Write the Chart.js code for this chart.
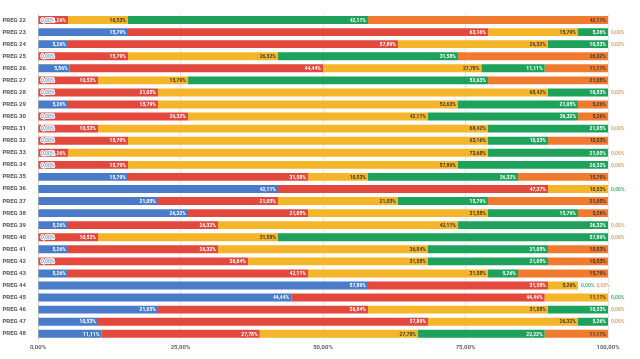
<!DOCTYPE html>
<html>
<head>
<meta charset="utf-8">
<script src="https://cdn.jsdelivr.net/npm/chart.js@4.4.0/dist/chart.umd.min.js"></script>
<style>
    html, body { margin: 0; padding: 0; background: #ffffff; }
    #wrap { width: 640px; height: 359px; position: relative; }
</style>
</head>
<body>
<div id="wrap"><canvas id="preguntas"></canvas></div>
<script>
// =========================
// DATOS
// =========================

const preguntas = [
    "PREG 22", "PREG 23", "PREG 24", "PREG 25", "PREG 26", "PREG 27", "PREG 28",
    "PREG 29", "PREG 30", "PREG 31", "PREG 32", "PREG 33", "PREG 34", "PREG 35",
    "PREG 36", "PREG 37", "PREG 38", "PREG 39", "PREG 40", "PREG 41", "PREG 42",
    "PREG 43", "PREG 44", "PREG 45", "PREG 46", "PREG 47", "PREG 48"
];

const azul = [0, 15.79, 5.26, 0, 5.56, 0, 0, 5.26, 0, 0, 0, 0, 0, 15.79, 42.11, 21.05, 26.32, 5.26, 0, 5.26, 0, 5.26, 57.89, 44.44, 21.05, 10.53, 11.11];
const rojo = [5.26, 63.16, 57.89, 15.79, 44.44, 10.53, 21.05, 15.79, 26.32, 10.53, 15.79, 5.26, 15.79, 31.58, 47.37, 21.05, 21.05, 26.32, 10.53, 26.32, 36.84, 42.11, 31.58, 44.44, 36.84, 57.89, 27.78];
const amarillo = [10.53, 15.79, 26.32, 26.32, 27.78, 15.79, 68.42, 52.63, 42.11, 68.42, 63.16, 73.68, 57.89, 10.53, 10.53, 21.05, 31.58, 42.11, 31.58, 36.84, 31.58, 31.58, 5.26, 11.11, 31.58, 26.32, 27.78];
const verde = [42.11, 5.26, 10.53, 31.58, 11.11, 52.63, 10.53, 21.05, 26.32, 21.05, 10.53, 21.05, 26.32, 26.32, 0, 15.79, 15.79, 26.32, 57.89, 21.05, 21.05, 5.26, 0, 0, 10.53, 5.26, 22.22];
const naranja = [42.11, 0, 0, 26.32, 11.11, 21.05, 0, 5.26, 5.26, 0, 10.53, 0, 0, 15.79, null, 21.05, 5.26, 0, 0, 10.53, 10.53, 15.79, 0, null, 0, 0, 11.11];

const ticksX = [0, 25, 50, 75, 100];

const colores = ["#4A7BC9", "#E2483C", "#F5B528", "#1DA15B", "#F07B2E"];
const coloresTexto = ["#FFFFFF", "#FFFFFF", "#3A3A3A", "#FFFFFF", "#3A3A3A"];
const coloresCero = ["rgba(74,123,201,.75)", "rgba(226,72,60,.75)", "rgba(214,150,60,.8)", "rgba(29,161,91,.8)", "rgba(214,150,90,.85)"];

const formato = v => v.toFixed(2).replace(".", ",") + "%";

// =========================
// ETIQUETAS DE LOS SEGMENTOS
// =========================

const etiquetas = {
    id: "etiquetas",
    afterDatasetsDraw(chart) {
        const ctx = chart.ctx;
        ctx.save();
        ctx.font = "bold 5px Roboto";
        ctx.textBaseline = "middle";
        const ocupado = {};
        chart.data.datasets.forEach((ds, i) => {
            const meta = chart.getDatasetMeta(i);
            meta.data.forEach((bar, j) => {
                const v = ds.data[j];
                if (v === null || v === undefined) return;
                const texto = formato(v);
                if (v > 0) {
                    ctx.textAlign = "right";
                    ctx.fillStyle = coloresTexto[i];
                    ctx.fillText(texto, bar.x - 2, bar.y + 0.5);
                } else {
                    let x = bar.x + 3;
                    if (ocupado[j] !== undefined && ocupado[j] > x) x = ocupado[j];
                    ctx.textAlign = "left";
                    ctx.lineWidth = 2;
                    ctx.strokeStyle = "#FFFFFF";
                    ctx.strokeText(texto, x, bar.y + 0.5);
                    ctx.fillStyle = coloresCero[i];
                    ctx.fillText(texto, x, bar.y + 0.5);
                    ocupado[j] = x + ctx.measureText(texto).width + 2;
                }
            });
        });
        ctx.restore();
    }
};

// =========================
// GRÁFICO
// =========================

const series = [azul, rojo, amarillo, verde, naranja];

new Chart(document.getElementById("preguntas"), {

    type: "bar",

    data: {
        labels: preguntas,
        datasets: series.map((d, i) => ({
            data: d,
            backgroundColor: colores[i],
            borderWidth: 0,
            barPercentage: 0.8,
            categoryPercentage: 0.82
        }))
    },

    options: {

        indexAxis: "y",
        responsive: true,
        maintainAspectRatio: false,
        animation: false,

        layout: {
            padding: { left: 0, right: 32, top: 14, bottom: 4 }
        },

        plugins: {
            legend: { display: false },
            tooltip: { enabled: false }
        },

        scales: {

            x: {
                stacked: true,
                min: 0,
                max: 100,
                afterBuildTicks: scale => {
                    scale.ticks = ticksX.map(v => ({ value: v }));
                },
                ticks: {
                    callback: value => formato(value),
                    color: "#666666",
                    padding: 4,
                    font: { family: "Roboto", size: 6, weight: "bold" }
                },
                grid: {
                    color: "#E6E6E6",
                    drawTicks: false
                },
                border: { display: false }
            },

            y: {
                stacked: true,
                afterFit: scale => { scale.width = 38; },
                ticks: {
                    color: "#555555",
                    padding: 4,
                    font: { family: "Roboto", size: 6, weight: "bold" }
                },
                grid: {
                    display: false
                },
                border: { color: "#CCCCCC" }
            }

        }

    },

    plugins: [etiquetas]

});
</script>
</body>
</html>
